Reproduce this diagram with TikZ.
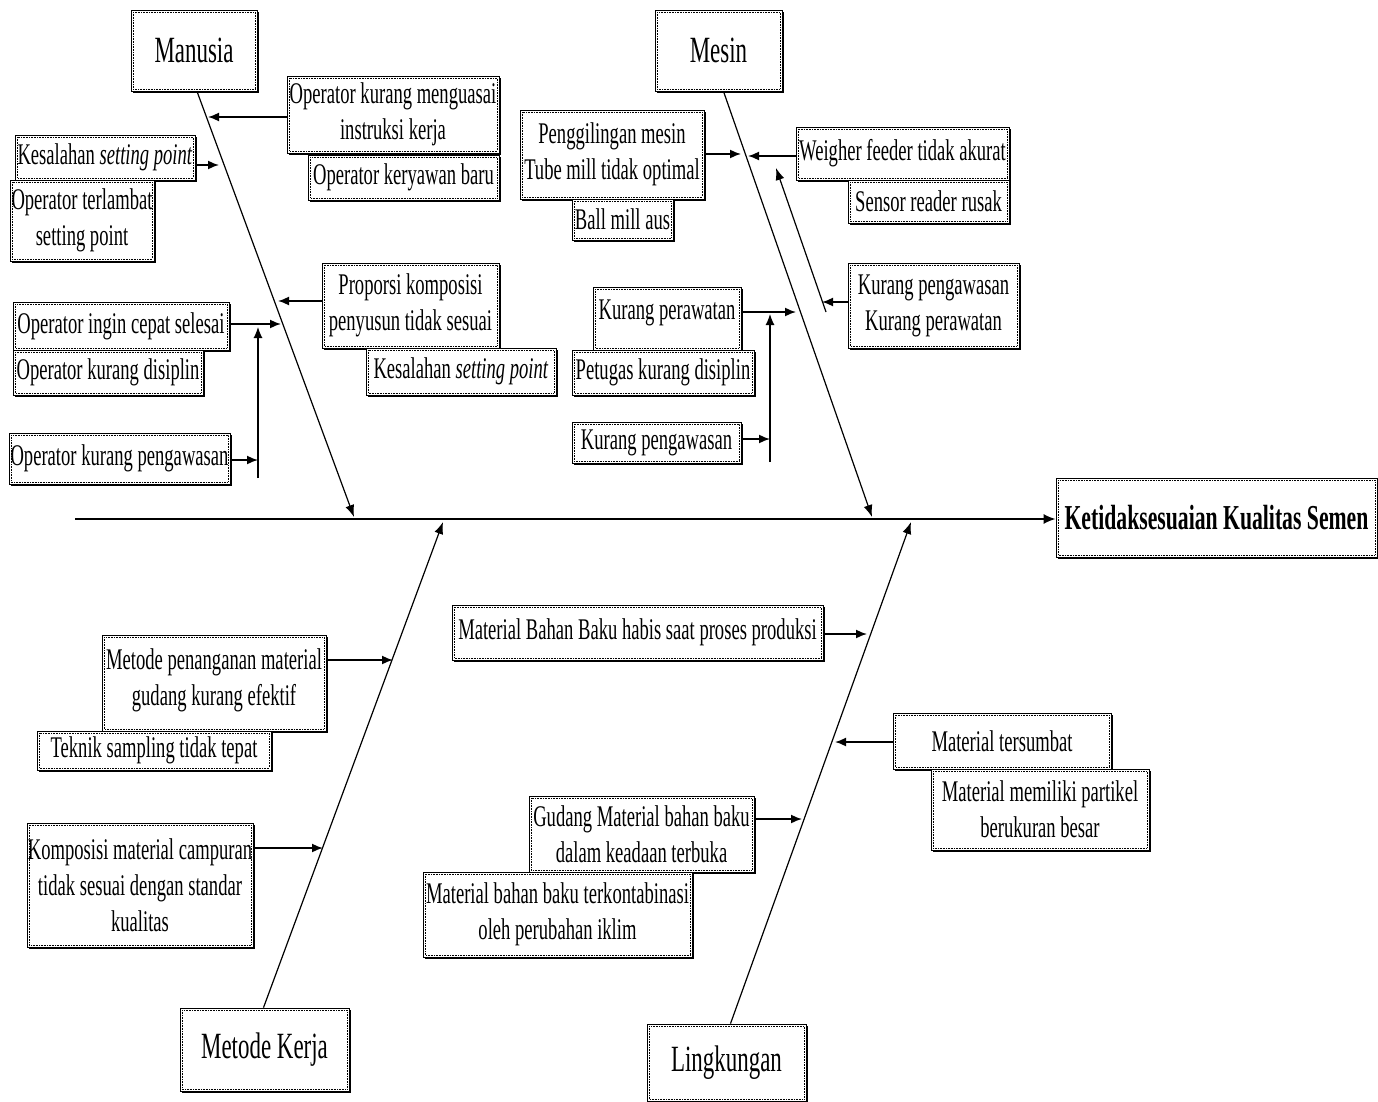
\documentclass[tikz,border=0pt]{standalone}
\usepackage{fontspec}
\setmainfont{Liberation Serif}[FakeStretch=0.62]
\usetikzlibrary{arrows.meta,shadows}
\newcommand\cbx[7][cbox]{%
  \node[#1, minimum width=#5pt, minimum height=#6pt] (#2) at (#3,#4) {#7};
  \draw[innerframe] ([shift={(2.5pt,-2.5pt)}]#2.north west) rectangle ([shift={(-2.5pt,2.5pt)}]#2.south east);}
\begin{document}
\begin{tikzpicture}[x=1pt,y=-1pt,
  cbox/.style={draw=black, line width=0.8pt, fill=white, inner sep=0pt, align=center,
    font=\fontsize{30}{36}\selectfont,
    drop shadow={opacity=1, fill=black, shadow xshift=1.6pt, shadow yshift=-1.6pt}},
  catbox/.style={cbox, font=\fontsize{37}{44}\selectfont},
  effbox/.style={cbox, font=\fontsize{35}{42}\selectfont\bfseries},
  innerframe/.style={densely dotted, line width=0.6pt},
  arr/.style={line width=1.6pt, -{Latex[length=11pt,width=9pt]}},
  bone/.style={line width=1.2pt, -{Latex[length=12pt,width=9pt]}},
  spine/.style={line width=1.6pt, -{Latex[length=12pt,width=10pt]}}]
\useasboundingbox (0,0) rectangle (1378,1102);
\fill[white] (0,0) rectangle (1378,1102);

% effect and categories
\cbx[effbox]{eff}{1216.5}{517.5}{321}{79}{Ketidaksesuaian Kualitas Semen}
\cbx[catbox]{man}{194}{50.5}{126}{81}{Manusia}
\cbx[catbox]{mes}{718.5}{50.5}{127}{81}{Mesin}
\cbx[catbox]{met}{264.5}{1049.5}{169}{83}{Metode Kerja}
\cbx[catbox]{lin}{726.5}{1062.5}{159}{77}{\raisebox{-6pt}{Lingkungan}}

% spine and bones
\coordinate (tail) at (75,519);
\draw[spine] (tail) -- (tail -| eff.west);
\coordinate (bman) at (354,517);
\coordinate (bmes) at (872,517);
\coordinate (bmet) at (443,522);
\coordinate (blin) at (911,522);
\draw[bone] ([xshift=3pt]man.south) -- (bman);
\draw[bone] ([xshift=5pt]mes.south) -- (bmes);
\draw[bone] ([xshift=-1pt]met.north) -- (bmet);
\draw[bone] ([xshift=4pt]lin.north) -- (blin);

% Manusia causes
\cbx{m1}{393}{114.5}{212}{77}{Operator kurang menguasai\\instruksi kerja}
\cbx{m2}{403.5}{177.5}{191}{45}{Operator keryawan baru}
\cbx{m3}{105}{157.5}{180}{45}{Kesalahan \textit{setting point}}
\cbx{m4}{82}{220.5}{144}{81}{Operator terlambat\\setting point}
\cbx{m5}{410.5}{305.5}{177}{85}{Proporsi komposisi\\penyusun tidak sesuai}
\cbx{m6}{461}{371.5}{190}{47}{Kesalahan \textit{setting point}}
\cbx{m7}{121}{326}{216}{48}{Operator ingin cepat selesai}
\cbx{m8}{108}{372.5}{190}{45}{Operator kurang disiplin}
\cbx{m9}{119.5}{458.5}{221}{51}{Operator kurang pengawasan}

\coordinate (m1t) at (208,117);
\coordinate (m3t) at (219,165);
\coordinate (m5t) at (278,301);
\coordinate (m7t) at (281,324);
\coordinate (m9t) at (258,460);
\coordinate (mvb) at (258,478);
\coordinate (mvt) at (258,327);
\draw[arr] (m1t -| m1.west) -- (m1t);
\draw[arr] (m3t -| m3.east) -- (m3t);
\draw[arr] (m5t -| m5.west) -- (m5t);
\draw[arr] (m7t -| m7.east) -- (m7t);
\draw[arr] (m9t -| m9.east) -- (m9t);
\draw[line width=1.2pt, -{Latex[length=11pt,width=9pt]}] (mvb) -- (mvt);

% Mesin causes
\cbx{s1}{612}{154.5}{184}{89}{Penggilingan mesin\\Tube mill tidak optimal}
\cbx{s2}{622.5}{219.5}{101}{41}{Ball mill aus}
\cbx{s3}{902.5}{153.5}{213}{53}{Weigher feeder tidak akurat}
\cbx{s4}{928.5}{201.5}{161}{43}{Sensor reader rusak}
\cbx{s5}{933.5}{305.5}{171}{85}{Kurang pengawasan\\Kurang perawatan}
\cbx{s6}{667}{318.5}{148}{63}{Kurang perawatan\\[-19pt]\mbox{}}
\cbx{s7}{663}{372.5}{182}{45}{Petugas kurang disiplin}
\cbx{s8}{656.5}{442.5}{169}{41}{Kurang pengawasan}

\coordinate (s1t) at (741,154);
\coordinate (s3t) at (748,156);
\coordinate (s5t) at (822,302);
\coordinate (s6t) at (796,312);
\coordinate (s8t) at (770,439);
\coordinate (svb) at (770,462);
\coordinate (svt) at (770,314);
\coordinate (sdb) at (826,312);
\coordinate (sdt) at (776,168);
\draw[arr] (s1t -| s1.east) -- (s1t);
\draw[arr] (s3t -| s3.west) -- (s3t);
\draw[arr] (s5t -| s5.west) -- (s5t);
\draw[arr] (s6t -| s6.east) -- (s6t);
\draw[arr] (s8t -| s8.east) -- (s8t);
\draw[line width=1.2pt, -{Latex[length=11pt,width=9pt]}] (svb) -- (svt);
\draw[line width=1.2pt, -{Latex[length=12pt,width=9pt]}] (sdb) -- (sdt);

% Metode Kerja causes
\cbx{k1}{214}{683}{224}{96}{Metode penanganan material\\gudang kurang efektif\\[-25pt]\mbox{}}
\cbx{k2}{154}{750.5}{234}{39}{Teknik sampling tidak tepat}
\cbx{k3}{140}{885}{226}{124}{Komposisi material campuran\\tidak sesuai dengan standar\\kualitas}

\coordinate (k1t) at (393,660);
\coordinate (k3t) at (323,848);
\draw[arr] (k1t -| k1.east) -- (k1t);
\draw[arr] (k3t -| k3.east) -- (k3t);

% Lingkungan causes
\cbx{l1}{637.5}{632.5}{371}{55}{Material Bahan Baku habis saat proses produksi}
\cbx{l2}{1002}{741}{218}{56}{Material tersumbat}
\cbx{l3}{1040}{809.5}{218}{81}{Material memiliki partikel\\berukuran besar}
\cbx{l4}{641.5}{834}{225}{76}{Gudang Material bahan baku\\dalam keadaan terbuka}
\cbx{l5}{557.5}{914.5}{269}{85}{Material bahan baku terkontabinasi\\oleh perubahan iklim}

\coordinate (l1t) at (867,634);
\coordinate (l2t) at (835,742);
\coordinate (l4t) at (802,819);
\draw[arr] (l1t -| l1.east) -- (l1t);
\draw[arr] (l2t -| l2.west) -- (l2t);
\draw[arr] (l4t -| l4.east) -- (l4t);
\end{tikzpicture}
\end{document}
